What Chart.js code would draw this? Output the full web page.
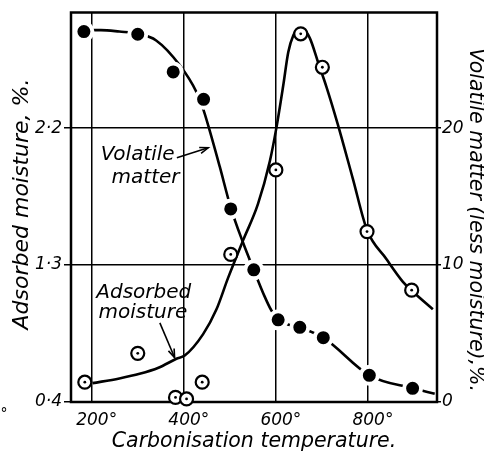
<!DOCTYPE html>
<html>
<head>
<meta charset="utf-8">
<script src="https://cdn.jsdelivr.net/npm/chart.js@4"></script>
<style>
   html, body { margin: 0; padding: 0; background: #fff; }
   canvas { display: block; }
</style>
</head>
<body>
<canvas id="graphique" width="484" height="455"></canvas>
<script>
// Volatile matter (less moisture), % - filled points
const volatileTemp = [183, 300, 377, 443, 502, 552, 605, 652, 703, 803, 897];
const volatileValues = [27.05, 26.85, 24.1, 22.1, 14.1, 9.65, 6.0, 5.45, 4.7, 1.95, 1.0];

// Adsorbed moisture, % - open points
const moistureTemp = [185, 300, 382, 406, 440, 502, 600, 654, 701, 798, 895];
const moistureValues = [0.53, 0.72, 0.43, 0.42, 0.53, 1.37, 1.925, 2.82, 2.60, 1.52, 1.135];

// Smoothed curves as drawn on the original
const volatileCurveTemp = [183, 220, 260, 300, 340, 391, 428, 442, 453, 478, 502, 528, 552, 575, 590, 605, 652, 703, 803, 897, 945];
const volatileCurveValues = [27.15, 27.15, 27.05, 26.9, 26.4, 24.6, 22.6, 21.4, 20.2, 17.2, 14.2, 11.7, 9.65, 7.75, 6.7, 6.0, 5.45, 4.7, 1.95, 1.0, 0.6];

const moistureCurveTemp = [202, 260, 304, 345, 384, 402, 442, 471, 496, 529, 561, 587, 601, 616, 627, 638, 648, 660, 674, 692, 710, 735, 767, 798, 840, 876, 896, 941];
const moistureCurveValues = [0.524, 0.555, 0.585, 0.625, 0.684, 0.705, 0.846, 1.009, 1.214, 1.464, 1.70, 1.984, 2.2, 2.48, 2.70, 2.81, 2.85, 2.85, 2.79, 2.63, 2.47, 2.22, 1.87, 1.53, 1.34, 1.19, 1.13, 1.01];

const xTicks = [200, 400, 600, 800];
const moistureTicks = [0.4, 1.3, 2.2];
const volatileTicks = [0, 10, 20];

const police = 'DejaVu Sans';

function toPoints(xs, ys) {
   return xs.map((x, i) => ({x: x, y: ys[i]}));
}

function fixTicks(values) {
   return function (scale) {
      scale.ticks = values.map(v => ({value: v}));
   };
}

const decorPlugin = {
   id: 'decor',
   beforeDatasetsDraw(chart) {
      const {ctx, chartArea: a} = chart;
      ctx.save();
      ctx.strokeStyle = '#000';
      ctx.lineWidth = 2.5;
      ctx.strokeRect(a.left, a.top, a.right - a.left, a.bottom - a.top);
      ctx.restore();
   },
   afterDraw(chart) {
      const ctx = chart.ctx;
      const sx = chart.scales.x;
      const sy = chart.scales.yR;
      const px = v => sx.getPixelForValue(v);
      const py = v => sy.getPixelForValue(v);

      ctx.save();
      ctx.fillStyle = '#000';
      ctx.strokeStyle = '#000';

      // axis titles (vertical)
      ctx.textAlign = 'center';
      ctx.textBaseline = 'middle';
      ctx.font = 'italic 22px "' + police + '"';
      ctx.save();
      ctx.translate(22, 204);
      ctx.rotate(-Math.PI / 2);
      ctx.fillText('Adsorbed moisture, %.', 0, 0);
      ctx.restore();
      ctx.font = 'italic 20.5px "' + police + '"';
      ctx.save();
      ctx.translate(475, 220);
      ctx.rotate(Math.PI / 2);
      ctx.fillText('Volatile matter (less moisture),%.', 0, 0);
      ctx.restore();

      // stray degree mark at the bottom left
      ctx.font = 'italic 14px "' + police + '"';
      ctx.fillText('°', 4, 414);

      // curve labels
      ctx.font = 'italic 20px "' + police + '"';
      ctx.textBaseline = 'alphabetic';
      ctx.fillText('Volatile', px(300), py(17.7));
      ctx.fillText('matter', px(317), py(15.96));
      ctx.fillText('Adsorbed', px(313), py(7.58));
      ctx.fillText('moisture', px(311), py(6.14));

      // arrows
      drawArrow(ctx, px(385), py(17.83), px(453), py(18.56));
      drawArrow(ctx, px(348), py(5.78), px(380), py(3.25));
      ctx.restore();
   }
};

function drawArrow(ctx, x1, y1, x2, y2) {
   const ang = Math.atan2(y2 - y1, x2 - x1);
   ctx.lineWidth = 1.6;
   ctx.beginPath();
   ctx.moveTo(x1, y1);
   ctx.lineTo(x2, y2);
   ctx.stroke();
   ctx.beginPath();
   ctx.moveTo(x2 - 9 * Math.cos(ang - 0.35), y2 - 9 * Math.sin(ang - 0.35));
   ctx.lineTo(x2, y2);
   ctx.lineTo(x2 - 9 * Math.cos(ang + 0.35), y2 - 9 * Math.sin(ang + 0.35));
   ctx.stroke();
}

new Chart(
   document.getElementById('graphique'),
   {
      type: 'line',
      data: {
         datasets: [
            {
               label: 'Volatile matter curve',
               data: toPoints(volatileCurveTemp, volatileCurveValues),
               yAxisID: 'yR',
               borderColor: '#000',
               borderWidth: 2.6,
               pointRadius: 0,
               cubicInterpolationMode: 'monotone',
               order: 5
            },
            {
               label: 'Volatile matter',
               data: toPoints(volatileTemp, volatileValues),
               yAxisID: 'yR',
               showLine: false,
               pointRadius: 8.5,
               pointBorderWidth: 4,
               pointBackgroundColor: '#000',
               pointBorderColor: '#fff',
               clip: false,
               order: 4
            },
            {
               label: 'Adsorbed moisture curve',
               data: toPoints(moistureCurveTemp, moistureCurveValues),
               yAxisID: 'yL',
               borderColor: '#000',
               borderWidth: 2.6,
               pointRadius: 0,
               cubicInterpolationMode: 'monotone',
               order: 3
            },
            {
               label: 'Adsorbed moisture',
               data: toPoints(moistureTemp, moistureValues),
               yAxisID: 'yL',
               showLine: false,
               pointRadius: 6.5,
               pointBorderWidth: 2.2,
               pointBackgroundColor: '#fff',
               pointBorderColor: '#000',
               clip: false,
               order: 2
            },
            {
               label: 'centre',
               data: toPoints(moistureTemp, moistureValues),
               yAxisID: 'yL',
               showLine: false,
               pointRadius: 1.4,
               pointBorderWidth: 0,
               pointBackgroundColor: '#000',
               clip: false,
               order: 1
            }
         ]
      },
      options: {
         responsive: false,
         animation: false,
         devicePixelRatio: 1,
         layout: {
            padding: {left: 0, right: 0, top: 8, bottom: 0}
         },
         plugins: {
            legend: {display: false},
            tooltip: {enabled: false}
         },
         scales: {
            x: {
               type: 'linear',
               min: 155,
               max: 950,
               afterBuildTicks: fixTicks(xTicks),
               afterFit: function (scale) { scale.height = 53; },
               ticks: {
                  color: '#000',
                  padding: 8,
                  labelOffset: 5,
                  maxRotation: 0,
                  font: {family: police, size: 17, style: 'italic'},
                  callback: v => v + '°'
               },
               grid: {
                  color: '#000',
                  lineWidth: 1.5,
                  drawTicks: false
               },
               border: {display: false},
               title: {
                  display: true,
                  text: 'Carbonisation temperature.',
                  color: '#000',
                  padding: {top: 0, bottom: 1},
                  font: {family: police, size: 20.5, style: 'italic'}
               }
            },
            yL: {
               type: 'linear',
               position: 'left',
               min: 0.4,
               max: 2.96,
               afterBuildTicks: fixTicks(moistureTicks),
               afterFit: function (scale) { scale.width = 71; },
               ticks: {
                  color: '#000',
                  padding: 2,
                  font: {family: police, size: 17, style: 'italic'},
                  callback: v => v.toFixed(1).replace('.', '·')
               },
               grid: {
                  color: '#000',
                  lineWidth: 1.5,
                  tickLength: 7
               },
               border: {display: false}
            },
            yR: {
               type: 'linear',
               position: 'right',
               min: 0,
               max: 28.44,
               afterBuildTicks: fixTicks(volatileTicks),
               afterFit: function (scale) { scale.width = 47; },
               ticks: {
                  color: '#000',
                  padding: 1,
                  font: {family: police, size: 17, style: 'italic'}
               },
               grid: {
                  color: '#000',
                  lineWidth: 1.5,
                  tickLength: 4,
                  drawOnChartArea: false
               },
               border: {display: false}
            }
         }
      },
      plugins: [decorPlugin]
   }
);
</script>
</body>
</html>
